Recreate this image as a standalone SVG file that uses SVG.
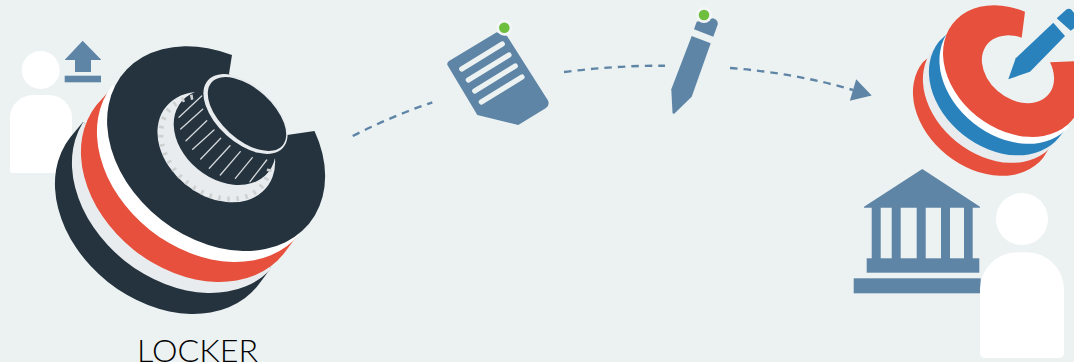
<svg xmlns="http://www.w3.org/2000/svg" width="1074" height="362" viewBox="0 0 1074 362">
<style>
.bg{fill:#ecf2f2}.dark{fill:#25333f}.red{fill:#e6503c}.blue{fill:#2a82bd}.wht{fill:#fff}.lite{fill:#e8ecee}.steel{fill:#5f85a6}.dot{fill:#6fbf3f}
.halo{fill:#f3f6f7}
.dash{fill:none;stroke:#5f85a6;stroke-width:2.4;stroke-dasharray:7.5 6}
.hatch{stroke:#d4d8da;stroke-width:1.3;stroke-linecap:round;fill:none}
.doc{stroke:#ecf2f2;stroke-width:5.2;stroke-linecap:round;fill:none}
text{font-family:"Lato","Liberation Sans",sans-serif;font-size:31px;font-weight:300;fill:#000}
</style>
<defs>
<marker id="arrow" markerUnits="userSpaceOnUse" markerWidth="24" markerHeight="26" refX="1" refY="12" orient="auto"><path class="steel" d="M1,0.7L20.5,12L1,23.3Z"/></marker>
</defs>
<rect class="bg" width="1074" height="362"/>
<g id="connectors">
<path class="dash" d="M352.7,136Q392,116 432.3,102.3"/>
<path class="dash" d="M564,72Q615,65.5 665,65.7"/>
<path class="dash" d="M730,68Q795,73 853,90" marker-end="url(#arrow)"/>
</g>
<g id="owner">
<circle class="wht" cx="40.7" cy="70" r="19"/>
<path class="wht" d="M10,118a23,23 0 0 1 23,-23h16a23,23 0 0 1 23,23v55h-60a2,2 0 0 1 -2,-2Z"/>
</g>
<g id="upload">
<path class="steel" d="M82.7,40.7L101,59.5V60H91V72H75V60H65V59.5Z"/>
<rect class="steel" x="64.7" y="75.7" width="36.3" height="6.6"/>
</g>
<g id="locker">
<path class="dark" d="M83,122L70.5,137A119.5,90 38.5 0 0 257.5,286L271,268Z"/>
<path class="lite" d="M83,122L87.5,116A119.5,90 38.5 0 0 274.5,265L271,268Z"/>
<path class="red" d="M110,90L96.5,105A119.5,90 38.5 0 0 283.5,254L297,236Z"/>
<path class="wht" d="M112.5,85A119.5,90 38.5 0 0 299.5,234Z"/>
<path class="dark" d="M232,55A119.5,90 38.5 1 0 314.5,131L287,135L229,74Z"/>
<path class="lite" d="M195,92A64.5,48.6 38.5 1 0 275,158A56,42 38.5 1 1 195,92Z"/>
<path fill="none" stroke="#cdd1d2" stroke-width="5" stroke-dasharray="2.6 6.5" d="M193,97A60,45 38.5 1 0 270,166"/>
<path class="hatch" d="M201.7,96L179,117.3M202.7,109.3L180.7,129M206.7,120.7L186,140.7M214,130L192.7,149.3M220.7,138.3L200.7,159M230,145.7L209.3,168.3M240.3,151.7L220.3,175M252.3,157.7L235.3,178.3M266.7,160L250,181.7"/>
<ellipse class="lite" cx="245.5" cy="114" rx="50.5" ry="28.5" transform="rotate(42 245.5 114)"/>
<ellipse class="dark" cx="247" cy="114" rx="47.5" ry="25.5" transform="rotate(42 247 114)"/>
</g>
<text id="locker-label" x="137" y="361.5" textLength="121" lengthAdjust="spacingAndGlyphs">LOCKER</text>
<g id="document">
<path class="steel" d="M496.7,32.3L449,61Q446,63.5 448,66L477.3,115L518.3,125L546,108Q550,105 548,100.5L507,36Z"/>
<circle class="halo" cx="504.3" cy="27.7" r="8"/>
<circle class="dot" cx="504.3" cy="27.7" r="5.3"/>
<path class="doc" d="M461.7,69L502.3,44M468.3,80L509,55M474.7,91L515.3,66M481.3,102L522,77"/>
</g>
<g id="pencil">
<path class="steel" d="M691.7,36L710.7,43.3L691.7,96.7L674,114L672.5,113L671.3,89.3Z"/>
<path class="steel" d="M696.7,21.7L713,18.3Q718.5,20 717.7,24.5L713.3,36.7L694,29.3Z"/>
<circle class="halo" cx="704" cy="15" r="8"/>
<circle class="dot" cx="704" cy="15" r="5.3"/>
</g>
<g id="signer-logo">
<path class="red" d="M931.7,55L923,62A76.8,57.8 38.5 0 0 1043,158L1050,147L1000,115L962,60Z"/>
<path class="lite" d="M933,49A76.8,57.8 38.5 0 0 1053,145L1000,115L962,60Z"/>
<path class="blue" d="M948,33L939,41.5A76.8,57.8 38.5 0 0 1059,137.5L1067,127L1000,115L962,60Z"/>
<path class="wht" d="M949.5,30A76.8,57.8 38.5 0 0 1069.5,126L1000,115L962,60Z"/>
<path class="red" d="M1025,11.7A76.8,57.8 38.5 1 0 1076.8,61L1050,62.3A39.6,29.8 38.5 1 1 1021.7,37.7Z"/>
<path class="blue" d="M1008.3,79.3L1015.7,58.3L1053.3,22.7L1065,36L1030,71.7Z"/>
<path class="blue" d="M1056.7,18.3L1066.7,9.3Q1069.5,8 1071.7,10L1074,13V28.3L1070.7,30.7Z"/>
</g>
<g id="bank">
<path class="steel" d="M922.3,169L980,206.7V207.7H864V206.7Z"/>
<rect class="steel" x="871.7" y="207" width="9" height="52"/>
<rect class="steel" x="891.7" y="207" width="9" height="52"/>
<rect class="steel" x="916.7" y="207" width="9" height="52"/>
<rect class="steel" x="941" y="207" width="9" height="52"/>
<rect class="steel" x="964" y="207" width="8.7" height="52"/>
<rect class="steel" x="866.7" y="258.3" width="112.6" height="14.4"/>
<rect class="steel" x="853.7" y="278.3" width="127" height="15"/>
</g>
<g id="signer">
<circle class="wht" cx="1022" cy="219" r="26"/>
<path class="wht" d="M980,290a37,37 0 0 1 37,-37.7h10a37,37 0 0 1 37,37.7v63a5,5 0 0 1 -5,5h-74a5,5 0 0 1 -5,-5Z"/>
</g>
</svg>
